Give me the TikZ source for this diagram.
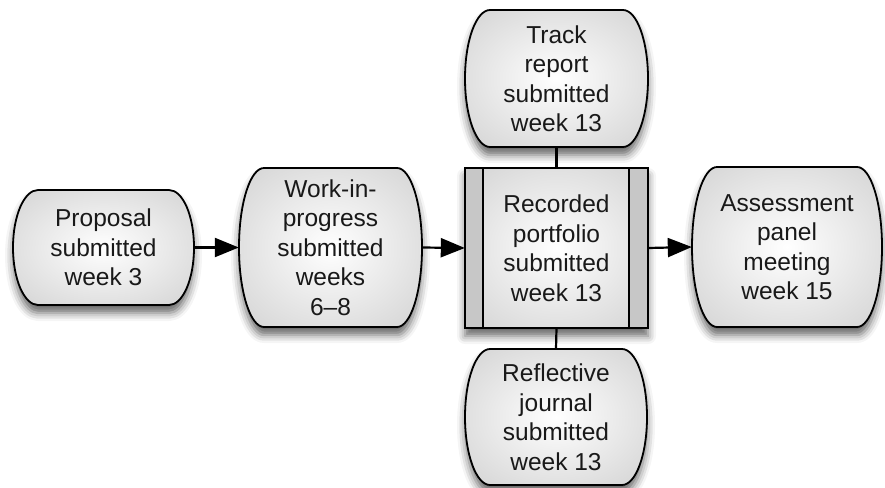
\documentclass[tikz,border=0pt]{standalone}
\usepackage{fontspec}
\setmainfont{Liberation Sans}
\usetikzlibrary{arrows.meta,shadows.blur}
\pgfdeclareradialshading{softrad}{\pgfpoint{0bp}{0bp}}{color(0bp)=(white); color(8bp)=(white!96!black); color(50bp)=(black!24); color(72bp)=(black!34)}
\tikzset{
  boxfill/.style={draw=black, line width=1.8pt, shading=softrad,
    blur shadow={shadow xshift=0pt, shadow yshift=-8pt, shadow blur radius=8pt, shadow opacity=60}},
  lbl/.style={draw=none, inner sep=0pt, align=center, text=black!90, font=\fontsize{24.5}{29.5}\selectfont},
  arr/.style={draw=black, line width=2.2pt, fill opacity=1, draw opacity=1, -{Triangle[length=24pt,width=19pt,fill=black]}},
  ln/.style={draw=black, line width=2.2pt},
}
\newcommand\termbox[6]{%
  \pgfmathsetmacro\tbh{(#5-#3)/2}%
  \pgfmathsetmacro\tbm{(#3+#5)/2}%
  \path[boxfill] ({#2+25},#3) -- ({#4-25},#3)
     .. controls ({#4-11.2},#3) and (#4,{\tbm-0.552*\tbh}) .. (#4,\tbm)
     .. controls (#4,{\tbm+0.552*\tbh}) and ({#4-11.2},#5) .. ({#4-25},#5)
     -- ({#2+25},#5)
     .. controls ({#2+11.2},#5) and (#2,{\tbm+0.552*\tbh}) .. (#2,\tbm)
     .. controls (#2,{\tbm-0.552*\tbh}) and ({#2+11.2},#3) .. cycle;
  \node[lbl, minimum width={(#4-#2)*1pt}, minimum height={(#5-#3)*1pt}] (#1) at ({(#2+#4)/2},\tbm) {#6};
}
\begin{document}
\begin{tikzpicture}[x=1pt,y=-1pt]
\useasboundingbox (0,0) rectangle (885,487);
\termbox{prop}{13}{190}{194}{305}{Proposal\\submitted\\week 3}
\termbox{wip}{239}{168}{422}{327}{Work-in-\\progress\\submitted\\weeks\\6--8}
\termbox{track}{465}{10}{648}{147}{Track\\report\\submitted\\week 13}
\termbox{refl}{465}{349}{647}{485}{Reflective\\journal\\submitted\\week 13}
\termbox{assess}{692}{167}{882}{327}{Assessment\\panel\\meeting\\week 15}
% recorded portfolio
\path[boxfill] (465,168) rectangle (648,328);
\fill[black!22] (465,168) rectangle (483,328);
\fill[black!22] (629,168) rectangle (648,328);
\draw[line width=1.8pt] (465,168) rectangle (648,328);
\draw[line width=1.8pt] (483,168) -- (483,328);
\draw[line width=1.8pt] (629,168) -- (629,328);
\node[lbl, minimum width=183pt, minimum height=160pt] (port) at (556.5,248) {Recorded\\portfolio\\submitted\\week 13};
% connectors
\draw[arr] (prop.east) -- (wip.west);
\draw[arr] (wip.east) -- (port.west);
\draw[arr] (port.east) -- (assess.west);
\draw[ln] (track.south) -- (port.north);
\draw[ln] (port.south) -- (refl.north);
\end{tikzpicture}
\end{document}
